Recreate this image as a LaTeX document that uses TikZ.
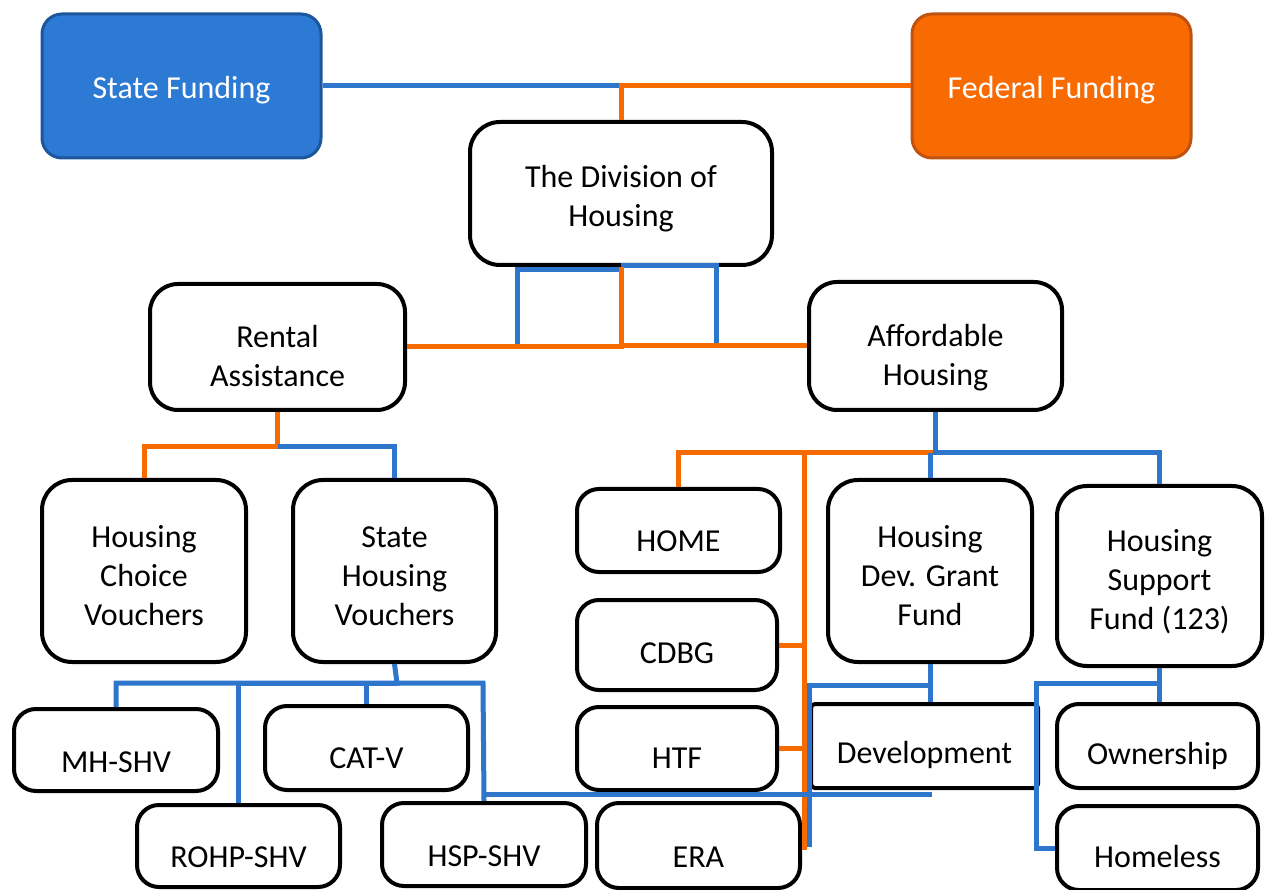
\documentclass[tikz,border=0pt]{standalone}
\usepackage{fontspec}
\setmainfont{Carlito}
\definecolor{lblue}{RGB}{46,117,204}
\definecolor{fblue}{RGB}{44,122,212}
\definecolor{dblue}{RGB}{28,86,156}
\definecolor{lorange}{RGB}{246,106,0}
\definecolor{forange}{RGB}{248,106,2}
\definecolor{dorange}{RGB}{190,82,14}
\begin{document}
\begin{tikzpicture}[x=1pt,y=-1pt,
  box/.style={draw=black,line width=4pt,fill=white,rounded corners=#1,inner sep=0pt},
  box/.default=22pt,
  topbox/.style 2 args={draw=#2,line width=3pt,fill=#1,rounded corners=20pt,inner sep=0pt,
    minimum width=279pt,minimum height=144pt},
  txt/.style={align=center,font=\fontsize{32}{39}\selectfont,inner sep=0pt},
  bl/.style={draw=lblue,line width=5pt},
  og/.style={draw=lorange,line width=5pt}]
\useasboundingbox (0,0) rectangle (1267,890);
\clip (0,0) rectangle (1267,890);

% ---------- bend points ----------
\coordinate (dl) at (517,270);
\coordinate (dr) at (716,266);
\coordinate (rj) at (277.5,447);
\coordinate (aj) at (935.5,453);
\coordinate (oe) at (804,850);
\coordinate (dj) at (930,685);
\coordinate (bv) at (809,847);
\coordinate (sj) at (397,683);
\coordinate (sk) at (483,683);
\coordinate (sb) at (932,794);
\coordinate (hj) at (1159.5,683);
\coordinate (hl) at (1036,847);

% ---------- boxes ----------
\node[topbox={fblue}{dblue}] (sf) at (181.5,86) {};
\node[topbox={forange}{dorange}] (ff) at (1051.5,86) {};
\node[box=30pt,minimum width=302pt,minimum height=143pt] (div) at (621,193.5) {};
\node[box=28pt,minimum width=255pt,minimum height=126pt] (ra) at (277.5,347) {};
\node[box=28pt,minimum width=253pt,minimum height=128pt] (af) at (935.5,346) {};
\node[box=30pt,minimum width=204pt,minimum height=182pt] (hcv) at (144,571) {};
\node[box=30pt,minimum width=203pt,minimum height=182pt] (shv) at (394.5,571) {};
\node[box,minimum width=203pt,minimum height=83pt] (home) at (678.5,530.5) {};
\node[box=30pt,minimum width=204pt,minimum height=182pt] (hdg) at (930,571) {};
\node[box=30pt,minimum width=205pt,minimum height=180pt] (hsf) at (1159.5,576) {};
\node[box,minimum width=200pt,minimum height=90pt] (cdbg) at (677,645) {};
\node[box,minimum width=200pt,minimum height=83pt] (htf) at (677,748.5) {};
\node[box=4pt,minimum width=227pt,minimum height=84pt] (dev) at (924.5,746) {};
\node[box,minimum width=201pt,minimum height=84pt] (own) at (1157.5,746) {};
\node[box,minimum width=201pt,minimum height=84pt] (hml) at (1157.5,848) {};
\node[box,minimum width=204pt,minimum height=82pt] (mh) at (116,750) {};
\node[box,minimum width=203pt,minimum height=84pt] (cat) at (366.5,748) {};
\node[box,minimum width=203pt,minimum height=82pt] (rohp) at (238.5,846) {};
\node[box,minimum width=204pt,minimum height=83pt] (hsp) at (484,844.5) {};
\node[box,minimum width=203pt,minimum height=85pt] (era) at (698.5,845.5) {};

% ---------- lines ----------
\draw[bl] (sf.east) -- (sf.east -| div.north);
\draw[og] (ff.west) -- (ff.west -| div.north) -- (div.north);

\draw[bl] (dl |- ra.east) -- (dl) -- (dl -| div.south);
\draw[bl] (dr -| div.south) -- (dr) -- (dr |- af.west);
\draw[og] (ra.east) -- (ra.east -| div.south) -- (div.south);
\draw[og] (af.west) -- (af.west -| div.south);

\draw[og] (ra.south) -- (rj) -| (hcv.north);
\draw[bl] (rj) -| (shv.north);

\draw[og] (aj) -| (home.north);
\draw[og] (oe |- aj) -- (oe);
\draw[og] (cdbg.east) -- (cdbg.east -| oe);
\draw[og] (htf.east) -- (htf.east -| oe);
\draw[bl] (af.south) -- (aj) -| (hsf.north);
\draw[bl] (aj -| hdg.north) -- (hdg.north);

\draw[bl] (hdg.south) -- (hdg.south |- dev.north);
\draw[bl] (dj) -| (bv);

\draw[bl] (shv.south) -- (sj) -| (mh.north);
\draw[bl] (sj) -| (rohp.north);
\draw[bl] (sj) -| (cat.north);
\draw[bl] (sj) -- (sk) -- (hsp.north);
\draw[bl] (sk |- sb) -- (sb);

\draw[bl] (hsf.south) -- (hsf.south |- own.north);
\draw[bl] (hj) -| (hml.west -| hl) -- (hml.west);

% ---------- texts ----------
\node[txt,text=white] (sft) at ([yshift=-4pt]sf.center) {State Funding};
\node[txt,text=white] (fft) at ([yshift=-4pt]ff.center) {Federal Funding};
\node[txt] (divt) at ([yshift=-5pt]div.center) {The Division of\\Housing};
\node[txt] (rat) at ([yshift=-9pt]ra.center) {Rental\\Assistance};
\node[txt] (aft) at ([yshift=-12pt]af.center) {Affordable\\Housing};
\node[txt] (hcvt) at ([yshift=-5pt]hcv.center) {Housing\\Choice\\Vouchers};
\node[txt] (shvt) at ([yshift=-5pt]shv.center) {State\\Housing\\Vouchers};
\node[txt] (homet) at ([yshift=-11pt]home.center) {HOME};
\node[txt] (hdgt) at ([yshift=-5pt]hdg.center) {Housing\\Dev. Grant\\Fund};
\node[txt] (hsft) at ([yshift=-6pt]hsf.center) {Housing\\Support\\Fund (123)};
\node[txt] (cdbgt) at ([yshift=-8pt]cdbg.center) {CDBG};
\node[txt] (htft) at ([yshift=-10pt]htf.center) {HTF};
\node[txt] (devt) at ([yshift=-9pt]dev.center) {Development};
\node[txt] (ownt) at ([yshift=-10pt]own.center) {Ownership};
\node[txt] (hmlt) at ([yshift=-9pt]hml.center) {Homeless};
\node[txt] (mht) at ([yshift=-12pt]mh.center) {MH-SHV};
\node[txt] (catt) at ([yshift=-10pt]cat.center) {CAT-V};
\node[txt] (rohpt) at ([yshift=-11pt]rohp.center) {ROHP-SHV};
\node[txt] (hspt) at ([yshift=-12pt]hsp.center) {HSP-SHV};
\node[txt] (erat) at ([yshift=-12pt]era.center) {ERA};
\end{tikzpicture}
\end{document}
